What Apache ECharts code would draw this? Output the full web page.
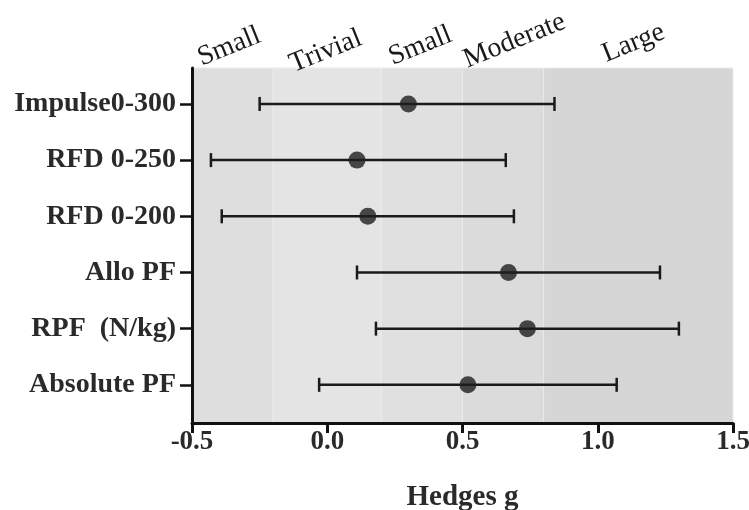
<!DOCTYPE html>
<html>
<head>
<meta charset="utf-8">
<script src="https://cdn.jsdelivr.net/npm/echarts@6/dist/echarts.min.js"></script>
<style>
  html, body { margin: 0; padding: 0; background: #ffffff; }
  #chart { width: 749px; height: 510px; }
</style>
</head>
<body>
<div id="chart"></div>
<script>
// Outcome measures, top to bottom
const categories = ['Impulse0-300', 'RFD 0-250', 'RFD 0-200', 'Allo PF', 'RPF  (N/kg)', 'Absolute PF'];
// Effect size (Hedges g) with its confidence limits
const hedgesG = [0.30, 0.11, 0.15, 0.67, 0.74, 0.52];
const ciLower = [-0.25, -0.43, -0.39, 0.11, 0.18, -0.03];
const ciUpper = [0.84, 0.66, 0.69, 1.23, 1.30, 1.07];
// Magnitude bands along the effect-size axis
const bandNames = ['Small', 'Trivial', 'Small', 'Moderate', 'Large'];
const bandEdges = [-0.5, -0.2, 0.2, 0.5, 0.8, 1.5];
const bandColors = ['#dedede', '#e4e4e4', '#e0e0e0', '#dbdbdb', '#d6d6d6'];
// x-axis range and step
const xMin = -0.5, xMax = 1.5, xStep = 0.5;

const rowIdx = categories.map((_, i) => i);
const serif = '"Liberation Serif", "Times New Roman", serif';
// small nudges for the rotated band captions
const bandLabelShift = [[2, 0], [2, 5], [4, 0], [18, 0], [2, -4]];

const chart = echarts.init(document.getElementById('chart'), null, { renderer: 'canvas' });

const bands = bandNames.map((name, i) => [
  { name: name, xAxis: bandEdges[i], itemStyle: { color: bandColors[i] }, label: { offset: bandLabelShift[i] } },
  { xAxis: bandEdges[i + 1] }
]);

chart.setOption({
  backgroundColor: '#ffffff',
  animation: false,
  grid: { left: 192, right: 16, top: 68, bottom: 87, containLabel: false, outerBoundsMode: 'none' },
  xAxis: {
    type: 'value',
    min: xMin, max: xMax, interval: xStep,
    name: 'Hedges g',
    nameLocation: 'middle',
    nameGap: 60,
    nameTextStyle: { fontFamily: serif, fontWeight: 'bold', fontSize: 29, color: '#2a2a2a' },
    axisLine: { show: true, onZero: false, lineStyle: { color: '#111', width: 3 } },
    axisTick: { show: true, length: 10, lineStyle: { color: '#111', width: 3 } },
    axisLabel: {
      margin: 6,
      fontFamily: serif, fontWeight: 'bold', fontSize: 27, color: '#2a2a2a',
      formatter: v => v.toFixed(1)
    },
    splitLine: { show: false }
  },
  yAxis: {
    type: 'value',
    inverse: true,
    min: -0.64, max: 5.68,
    axisLine: { show: true, onZero: false, lineStyle: { color: '#111', width: 3 } },
    axisTick: { show: true, length: 12, customValues: rowIdx, lineStyle: { color: '#111', width: 2.5 } },
    axisLabel: {
      customValues: rowIdx,
      margin: 16,
      fontFamily: serif, fontWeight: 'bold', fontSize: 28, color: '#2a2a2a',
      formatter: v => categories[Math.round(v)]
    },
    splitLine: { show: false }
  },
  series: [
    {
      type: 'custom',
      name: 'CI',
      z: 3,
      data: categories.map((c, i) => [i, ciLower[i], ciUpper[i]]),
      encode: { x: [1, 2], y: 0 },
      renderItem: function (params, api) {
        const row = api.value(0);
        const a = api.coord([api.value(1), row]);
        const b = api.coord([api.value(2), row]);
        const cap = 7;
        const style = { stroke: '#1a1a1a', lineWidth: 2.5 };
        return {
          type: 'group',
          children: [
            { type: 'line', shape: { x1: a[0], y1: a[1], x2: b[0], y2: b[1] }, style: style },
            { type: 'line', shape: { x1: a[0], y1: a[1] - cap, x2: a[0], y2: a[1] + cap }, style: style },
            { type: 'line', shape: { x1: b[0], y1: b[1] - cap, x2: b[0], y2: b[1] + cap }, style: style }
          ]
        };
      },
      markArea: {
        silent: true,
        z: 0,
        itemStyle: { borderColor: '#ebebeb', borderWidth: 1 },
        label: {
          show: true,
          position: 'top',
          distance: 7,
          rotate: 22,
          fontFamily: serif,
          fontSize: 28,
          color: '#1a1a1a'
        },
        data: bands
      }
    },
    {
      type: 'scatter',
      name: 'Hedges g',
      z: 4,
      symbol: 'circle',
      symbolSize: 17,
      itemStyle: { color: '#1e1e1e' },
      data: hedgesG.map((g, i) => [g, i])
    }
  ]
});
</script>
</body>
</html>
